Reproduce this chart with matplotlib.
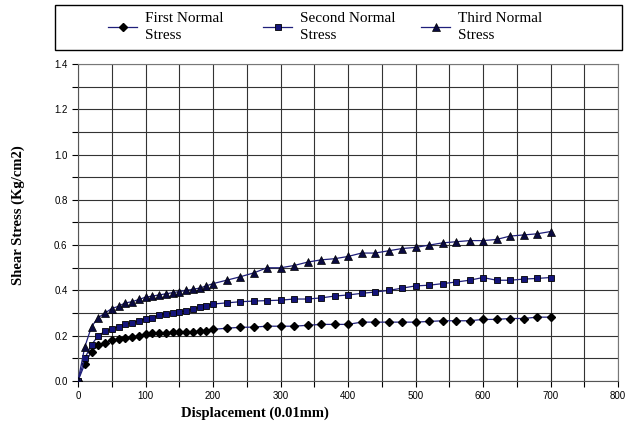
import matplotlib.pyplot as plt
import numpy as np
from matplotlib.ticker import MultipleLocator
from matplotlib.patches import Rectangle

# displacement readings (0.01 mm)
x = np.array([0, 10, 20, 30, 40, 50, 60, 70, 80, 90, 100, 110, 120, 130, 140, 150, 160, 170, 180, 190, 200,
              220, 240, 260, 280, 300, 320, 340, 360, 380, 400, 420, 440, 460, 480, 500, 520, 540, 560, 580,
              600, 620, 640, 660, 680, 700])

first = np.array([0, 0.075, 0.13, 0.16, 0.17, 0.18, 0.185, 0.19, 0.195, 0.20, 0.207, 0.21, 0.21, 0.213, 0.215,
                  0.215, 0.215, 0.217, 0.22, 0.222, 0.228,
                  0.233, 0.237, 0.238, 0.242, 0.242, 0.242, 0.246, 0.25, 0.25, 0.25, 0.26, 0.26, 0.26, 0.26,
                  0.26, 0.263, 0.266, 0.266, 0.266, 0.272, 0.272, 0.276, 0.276, 0.282, 0.282])

second = np.array([0, 0.10, 0.16, 0.20, 0.22, 0.23, 0.24, 0.25, 0.258, 0.265, 0.275, 0.28, 0.29, 0.295, 0.30,
                   0.305, 0.31, 0.318, 0.325, 0.333, 0.34,
                   0.345, 0.35, 0.353, 0.355, 0.357, 0.362, 0.362, 0.367, 0.375, 0.38, 0.387, 0.393, 0.40,
                   0.41, 0.42, 0.423, 0.43, 0.437, 0.445, 0.457, 0.445, 0.445, 0.45, 0.453, 0.457])

third = np.array([0, 0.15, 0.24, 0.28, 0.30, 0.32, 0.33, 0.345, 0.35, 0.36, 0.37, 0.375, 0.38, 0.385, 0.39,
                  0.395, 0.40, 0.405, 0.41, 0.42, 0.43,
                  0.445, 0.46, 0.477, 0.50, 0.50, 0.51, 0.525, 0.535, 0.54, 0.55, 0.565, 0.565, 0.575,
                  0.585, 0.59, 0.60, 0.61, 0.615, 0.62, 0.62, 0.625, 0.64, 0.645, 0.65, 0.66])

labels = ['First Normal\nStress', 'Second Normal\nStress', 'Third Normal\nStress']

W, H = 627, 429
fig = plt.figure(figsize=(W / 100, H / 100), dpi=100)
ax = fig.add_axes([78 / W, 1 - 381 / H, 540 / W, 317 / H])

line_c = '#1f1f7a'
l1, = ax.plot(x, first, color=line_c, lw=0.9, marker='D', ms=3.8, mfc='black', mec='black', zorder=3)
l2, = ax.plot(x, second, color=line_c, lw=0.9, marker='s', ms=5, mfc='#14147a', mec='black', mew=0.6, zorder=3)
l3, = ax.plot(x, third, color=line_c, lw=0.9, marker='^', ms=5.5, mfc='#0a0a40', mec='black', mew=0.5, zorder=3)

ax.set_xlim(0, 800)
ax.set_ylim(0, 1.4)
ax.xaxis.set_major_locator(MultipleLocator(100))
ax.xaxis.set_minor_locator(MultipleLocator(50))
ax.yaxis.set_major_locator(MultipleLocator(0.2))
ax.yaxis.set_minor_locator(MultipleLocator(0.1))
ax.yaxis.set_major_formatter(plt.FormatStrFormatter('%.1f'))
ax.grid(True, which='both', color='#333333', lw=0.8)
ax.set_axisbelow(True)
ax.tick_params(which='both', direction='out', length=4, width=0.8, labelsize=7, colors='black')
for lab in ax.get_xticklabels() + ax.get_yticklabels():
    lab.set_family('Liberation Sans')
for s in ['top', 'right']:
    ax.spines[s].set_color('#777777')
for s in ['left', 'bottom']:
    ax.spines[s].set_color('#555555')

fig.text(255 / W, 1 - 413 / H, 'Displacement (0.01mm)', family='Liberation Serif', fontweight='bold',
         fontsize=10.5, ha='center', va='center')
fig.text(18 / W, 1 - 215 / H, 'Shear Stress (Kg/cm2)', family='Liberation Serif', fontweight='bold',
         fontsize=10.5, ha='center', va='center', rotation=90)

# legend box across the top, entries at fixed column positions
fig.patches.append(Rectangle((55 / W, 1 - 50 / H), 567 / W, 45 / H, transform=fig.transFigure,
                             fill=False, edgecolor='black', lw=1.0))
for handle, lab, xs in zip([l1, l2, l3], labels, [108, 263, 421]):
    leg = fig.legend([handle], [lab], loc='center left', bbox_to_anchor=(xs / W, 1 - 27 / H),
                     frameon=False, handlelength=1.9, handletextpad=0.55, borderpad=0, borderaxespad=0,
                     prop={'family': 'Liberation Serif', 'size': 11})
    for t in leg.get_texts():
        t.set_linespacing(1.45)

fig.savefig('out.png', dpi=100)
